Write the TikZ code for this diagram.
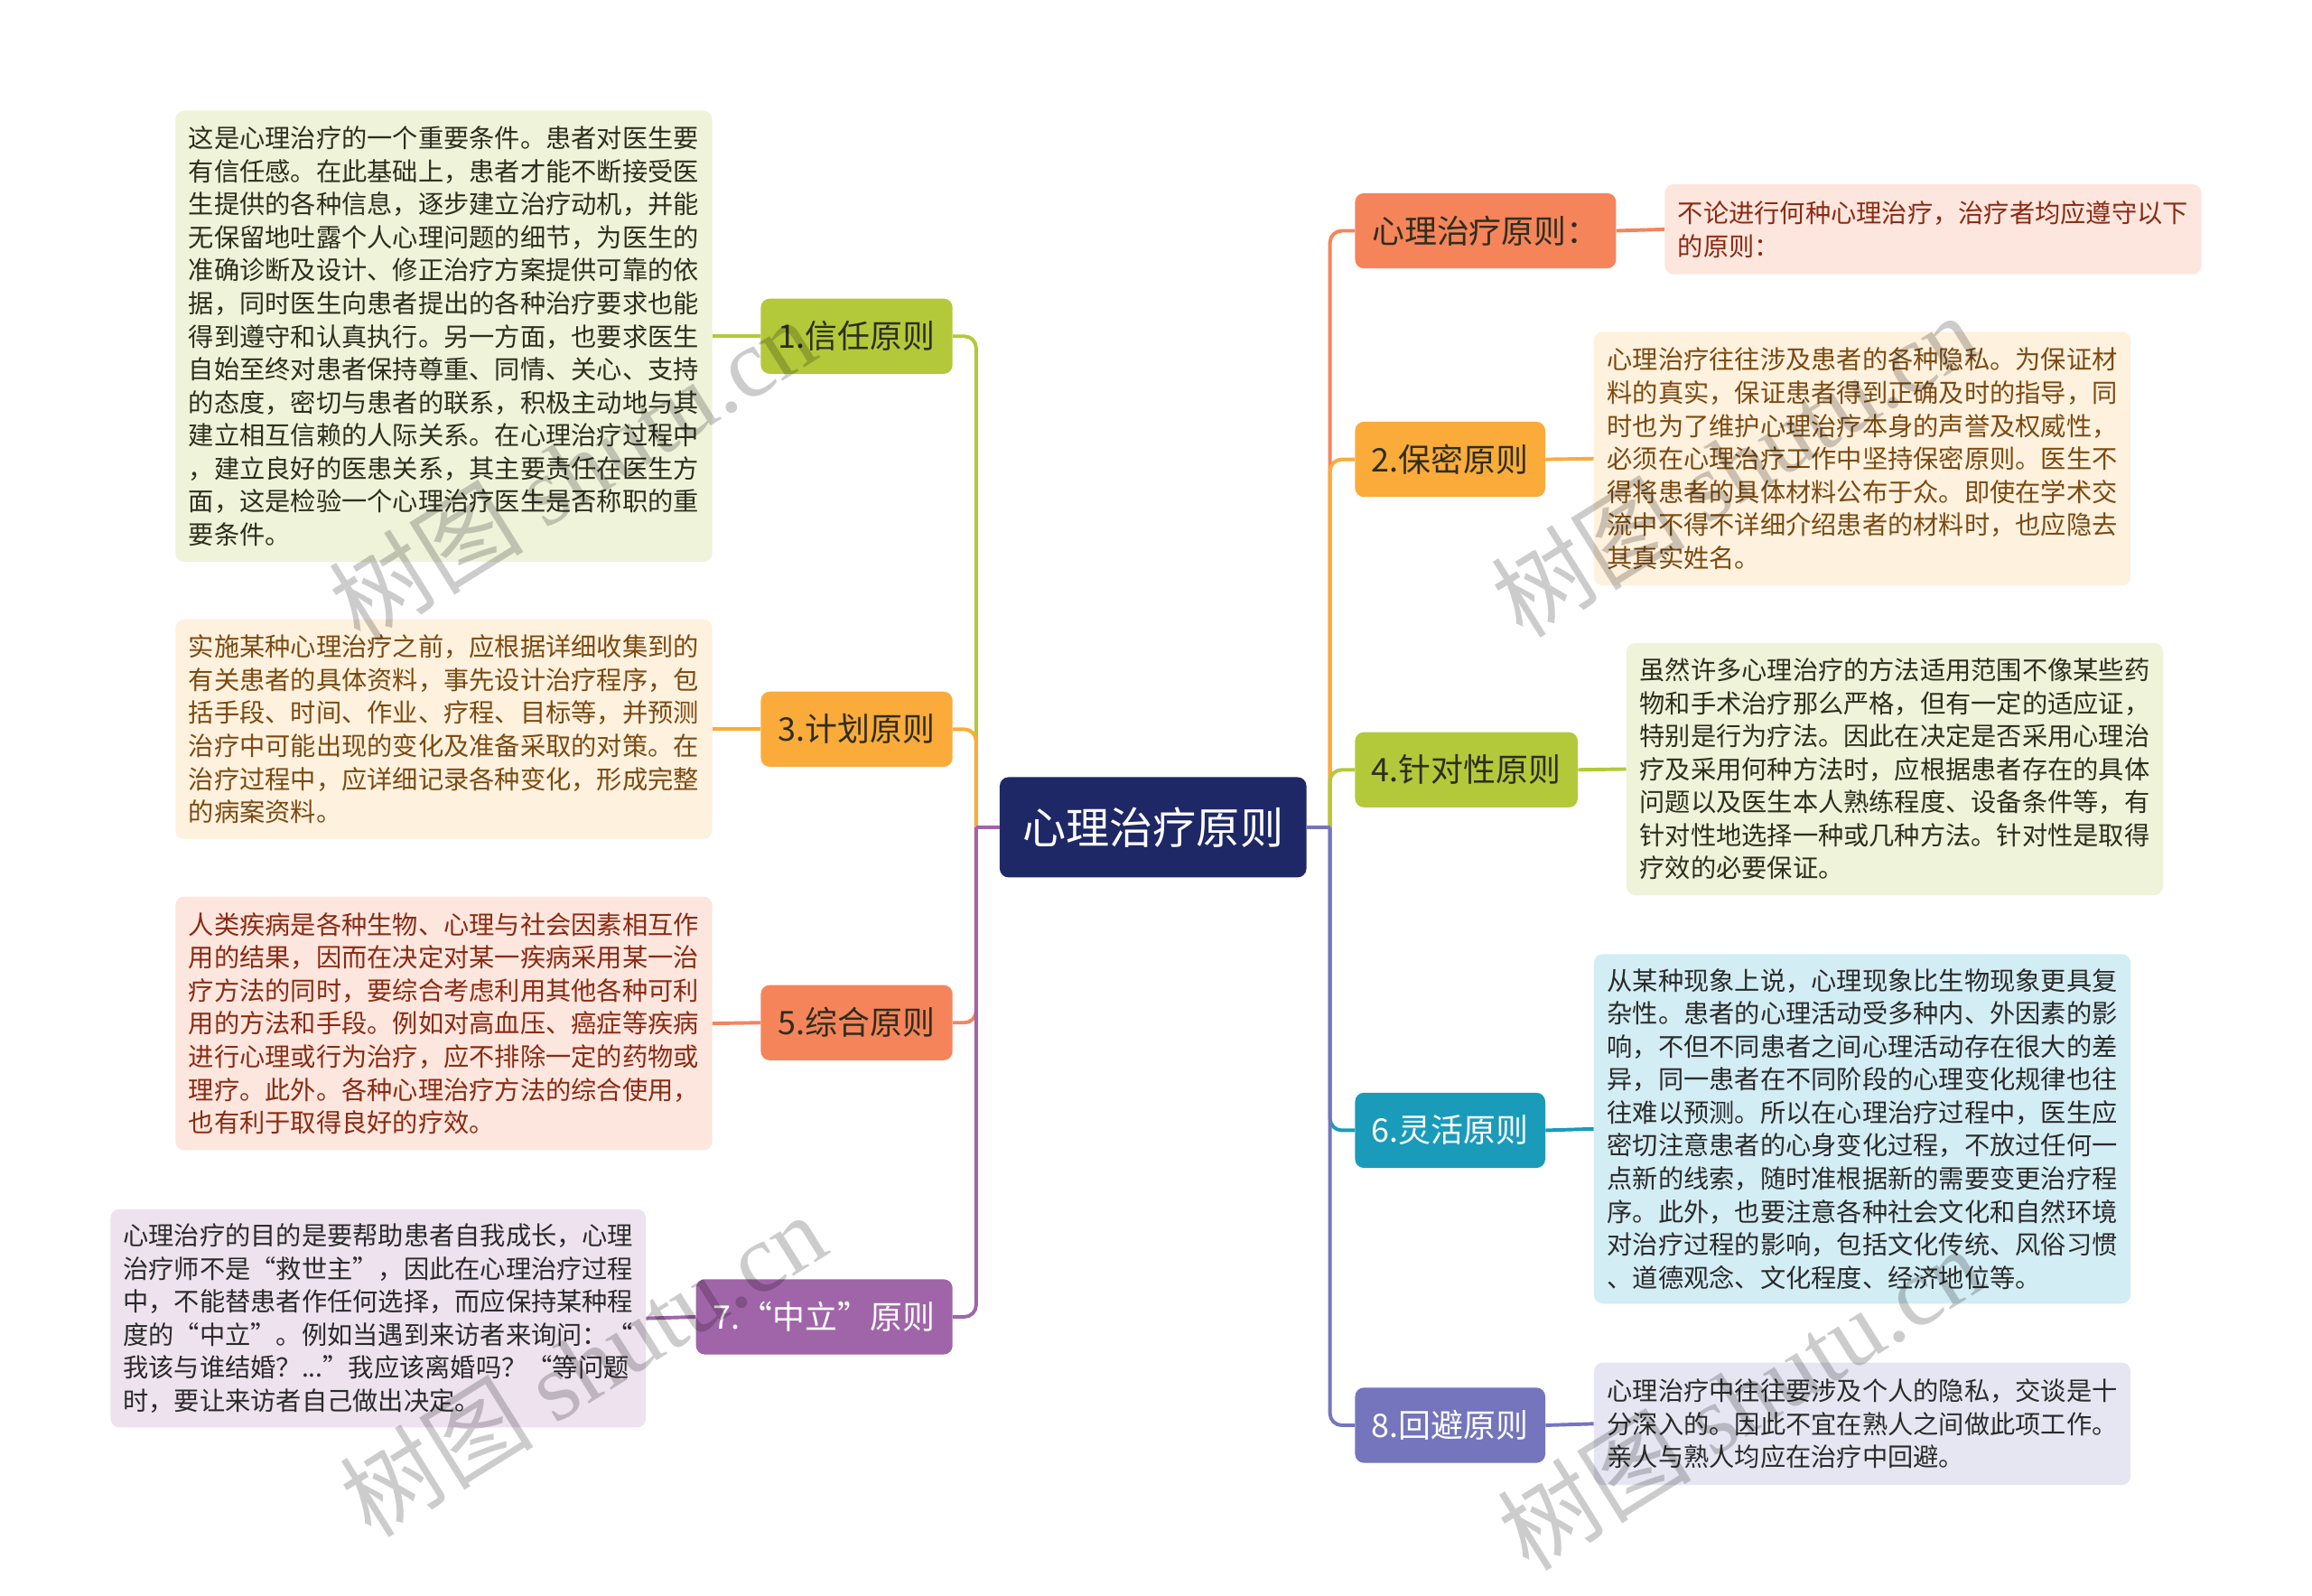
\documentclass[tikz,border=0pt]{standalone}
\usepackage{fontspec}
\setmainfont{Noto Sans CJK SC}
\newfontfamily\wmserif{Liberation Serif}
\definecolor{cnavy}{HTML}{1F2866}
\definecolor{cgreen}{HTML}{B3C93A}
\definecolor{cgreenbox}{HTML}{EFF3DA}
\definecolor{cgreentxt}{HTML}{2E2E1E}
\definecolor{corange}{HTML}{FBAB3A}
\definecolor{corangebox}{HTML}{FEF1DD}
\definecolor{corangetxt}{HTML}{7B4A12}
\definecolor{ccoral}{HTML}{F6845A}
\definecolor{ccoralbox}{HTML}{FDE6DD}
\definecolor{ccoraltxt}{HTML}{8A2A14}
\definecolor{cpurple}{HTML}{A064A8}
\definecolor{cpurplebox}{HTML}{EEE2EF}
\definecolor{cteal}{HTML}{1A9BBA}
\definecolor{ctealbox}{HTML}{D3EDF4}
\definecolor{cblue}{HTML}{7475BC}
\definecolor{cbluebox}{HTML}{E6E6F3}
\definecolor{cdark}{HTML}{2A2A2A}
\begin{document}
\begin{tikzpicture}[x=1pt,y=-1pt,
  mainnode/.style={rounded corners=6pt, minimum height=51pt, inner sep=0pt,
    font=\fontsize{22}{24}\selectfont},
  descbox/.style={rounded corners=6pt, inner sep=0pt, align=left,
    font=\fontsize{17.3}{22.4}\selectfont},
  conn/.style={line width=2.4pt, rounded corners=8pt},
  wm/.style={text=black, text opacity=0.2, font=\fontsize{66}{66}\selectfont, rotate=32}
]
\useasboundingbox[fill=white] (0,0) rectangle (1568,1082);

% central
\node[rounded corners=6pt, fill=cnavy, text=white, minimum width=208pt, minimum height=68pt,
  inner sep=0pt, font=\fontsize{29.5}{32}\selectfont] (c) at (782,561) {心理治疗原则};
\coordinate (L) at (662,561);
\coordinate (R) at (902,561);

% left main nodes
\node[mainnode, fill=cgreen, text=cgreentxt, minimum width=130pt] (n1) at (581,228) {1.信任原则};
\node[mainnode, fill=corange, text=cgreentxt, minimum width=130pt] (n3) at (581,494.5) {3.计划原则};
\node[mainnode, fill=ccoral, text=cgreentxt, minimum width=130pt] (n5) at (581,693.5) {5.综合原则};
\node[mainnode, fill=cpurple, text=white, minimum width=174pt] (n7) at (559,893) {7.“中立”原则};

% right main nodes
\node[mainnode, fill=ccoral, text=cgreentxt, minimum width=177pt] (n0) at (1007.5,156.5) {心理治疗原则：};
\node[mainnode, fill=corange, text=cgreentxt, minimum width=129pt] (n2) at (983.5,311.5) {2.保密原则};
\node[mainnode, fill=cgreen, text=cgreentxt, minimum width=151pt] (n4) at (994.5,522) {4.针对性原则};
\node[mainnode, fill=cteal, text=white, minimum width=129pt] (n6) at (983.5,766.5) {6.灵活原则};
\node[mainnode, fill=cblue, text=white, minimum width=129pt] (n8) at (983.5,966.5) {8.回避原则};

% description boxes left
\node[descbox, fill=cgreenbox, text=cgreentxt, minimum width=364pt, minimum height=306pt] (b1) at (301,228) {%
这是心理治疗的一个重要条件。患者对医生要\\
有信任感。在此基础上，患者才能不断接受医\\
生提供的各种信息，逐步建立治疗动机，并能\\
无保留地吐露个人心理问题的细节，为医生的\\
准确诊断及设计、修正治疗方案提供可靠的依\\
据，同时医生向患者提出的各种治疗要求也能\\
得到遵守和认真执行。另一方面，也要求医生\\
自始至终对患者保持尊重、同情、关心、支持\\
的态度，密切与患者的联系，积极主动地与其\\
建立相互信赖的人际关系。在心理治疗过程中\\
，建立良好的医患关系，其主要责任在医生方\\
面，这是检验一个心理治疗医生是否称职的重\\
要条件。\hfill\hbox{}};
\node[descbox, fill=corangebox, text=corangetxt, minimum width=364pt, minimum height=149pt] (b3) at (301,494.5) {%
实施某种心理治疗之前，应根据详细收集到的\\
有关患者的具体资料，事先设计治疗程序，包\\
括手段、时间、作业、疗程、目标等，并预测\\
治疗中可能出现的变化及准备采取的对策。在\\
治疗过程中，应详细记录各种变化，形成完整\\
的病案资料。};
\node[descbox, fill=ccoralbox, text=ccoraltxt, minimum width=364pt, minimum height=172pt] (b5) at (301,694) {%
人类疾病是各种生物、心理与社会因素相互作\\
用的结果，因而在决定对某一疾病采用某一治\\
疗方法的同时，要综合考虑利用其他各种可利\\
用的方法和手段。例如对高血压、癌症等疾病\\
进行心理或行为治疗，应不排除一定的药物或\\
理疗。此外。各种心理治疗方法的综合使用，\\
也有利于取得良好的疗效。};
\node[descbox, fill=cpurplebox, text=cdark, minimum width=363pt, minimum height=148pt] (b7) at (256.5,894) {%
心理治疗的目的是要帮助患者自我成长，心理\\
治疗师不是“救世主”，因此在心理治疗过程\\
中，不能替患者作任何选择，而应保持某种程\\
度的“中立”。例如当遇到来访者来询问：“\\
我该与谁结婚？...”我应该离婚吗？“等问题\\
时，要让来访者自己做出决定。};

% description boxes right
\node[descbox, fill=ccoralbox, text=ccoraltxt, minimum width=364pt, minimum height=61pt] (b0) at (1311,155.5) {%
不论进行何种心理治疗，治疗者均应遵守以下\\
的原则：};
\node[descbox, fill=corangebox, text=corangetxt, minimum width=364pt, minimum height=172pt] (b2) at (1263,311) {%
心理治疗往往涉及患者的各种隐私。为保证材\\
料的真实，保证患者得到正确及时的指导，同\\
时也为了维护心理治疗本身的声誉及权威性，\\
必须在心理治疗工作中坚持保密原则。医生不\\
得将患者的具体材料公布于众。即使在学术交\\
流中不得不详细介绍患者的材料时，也应隐去\\
其真实姓名。};
\node[descbox, fill=cgreenbox, text=cgreentxt, minimum width=364pt, minimum height=171pt] (b4) at (1285,521.5) {%
虽然许多心理治疗的方法适用范围不像某些药\\
物和手术治疗那么严格，但有一定的适应证，\\
特别是行为疗法。因此在决定是否采用心理治\\
疗及采用何种方法时，应根据患者存在的具体\\
问题以及医生本人熟练程度、设备条件等，有\\
针对性地选择一种或几种方法。针对性是取得\\
疗效的必要保证。};
\node[descbox, fill=ctealbox, text=cdark, minimum width=364pt, minimum height=237pt] (b6) at (1263,765.5) {%
从某种现象上说，心理现象比生物现象更具复\\
杂性。患者的心理活动受多种内、外因素的影\\
响，不但不同患者之间心理活动存在很大的差\\
异，同一患者在不同阶段的心理变化规律也往\\
往难以预测。所以在心理治疗过程中，医生应\\
密切注意患者的心身变化过程，不放过任何一\\
点新的线索，随时准根据新的需要变更治疗程\\
序。此外，也要注意各种社会文化和自然环境\\
对治疗过程的影响，包括文化传统、风俗习惯\\
、道德观念、文化程度、经济地位等。};
\node[descbox, fill=cbluebox, text=cdark, minimum width=364pt, minimum height=83pt] (b8) at (1263,965.5) {%
心理治疗中往往要涉及个人的隐私，交谈是十\\
分深入的。因此不宜在熟人之间做此项工作。\\
亲人与熟人均应在治疗中回避。};

% connectors: node to description
\draw[conn, cgreen] (n1.west) -- (b1.east);
\draw[conn, corange] (n3.west) -- (b3.east);
\draw[conn, ccoral] (n5.west) -- (b5.east);
\draw[conn, cpurple] (n7.west) -- (b7.east);
\draw[conn, ccoral] (n0.east) -- (b0.west);
\draw[conn, corange] (n2.east) -- (b2.west);
\draw[conn, cgreen] (n4.east) -- (b4.west);
\draw[conn, cteal] (n6.east) -- (b6.west);
\draw[conn, cblue] (n8.east) -- (b8.west);

% trunk connectors left
\draw[conn, cgreen] (L) |- (n1.east);
\draw[conn, corange] (L) |- (n3.east);
\draw[conn, ccoral] (L) |- (n5.east);
\draw[conn, cpurple] (L) |- (n7.east);
\draw[line width=2.4pt, cpurple] (c.west) -- (L);
% trunk connectors right
\draw[conn, ccoral] (R) |- (n0.west);
\draw[conn, corange] (R) |- (n2.west);
\draw[conn, cgreen] (R) |- (n4.west);
\draw[conn, cteal] (R) |- (n6.west);
\draw[conn, cblue] (R) |- (n8.west);
\draw[line width=2.4pt, cblue] (c.east) -- (R);

% watermarks
\node[wm] (w1) at (388,318) {树图 {\wmserif shutu.cn}};
\node[wm] (w2) at (1176,315) {树图 {\wmserif shutu.cn}};
\node[wm] (w3) at (395,925) {树图 {\wmserif shutu.cn}};
\node[wm] (w4) at (1180,948) {树图 {\wmserif shutu.cn}};
\end{tikzpicture}
\end{document}
